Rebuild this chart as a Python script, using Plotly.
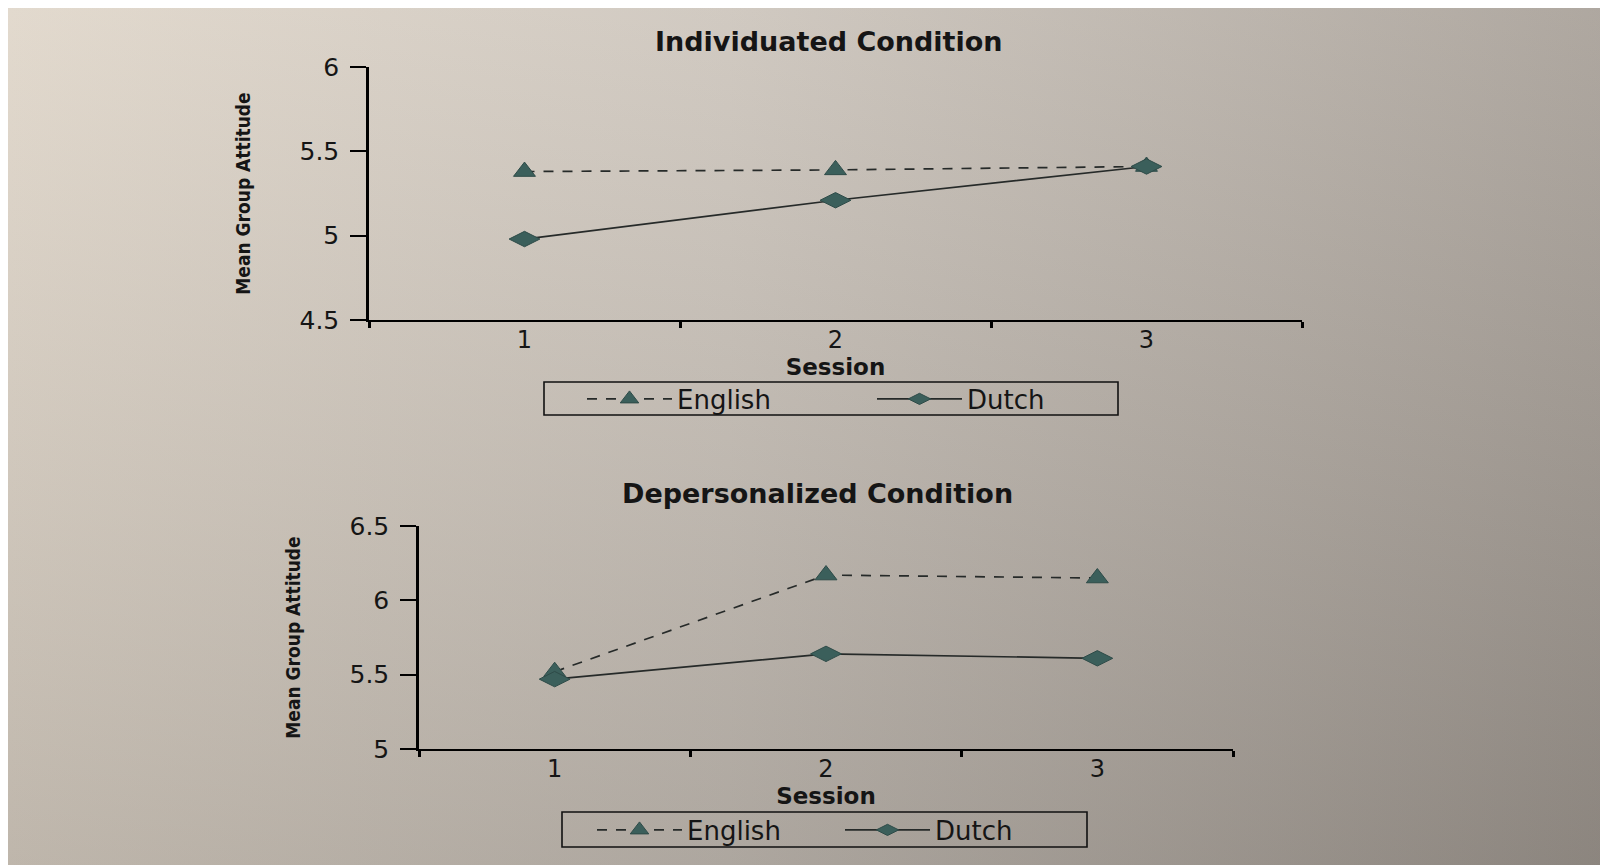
import plotly.graph_objects as go

# ---------------- data ----------------
sessions = ["1", "2", "3"]

indiv_english = [5.38, 5.39, 5.41]
indiv_dutch = [4.98, 5.21, 5.41]

depers_english = [5.52, 6.17, 6.15]
depers_dutch = [5.47, 5.64, 5.61]

indiv_yticks = [4.5, 5, 5.5, 6]
indiv_yticktext = ["4.5", "5", "5.5", "6"]
depers_yticks = [5, 5.5, 6, 6.5]
depers_yticktext = ["5", "5.5", "6", "6.5"]

series_names = ["English", "Dutch"]
titles = ["Individuated Condition", "Depersonalized Condition"]
x_title = "Session"
y_title = "Mean Group Attitude"

# ---------------- styling ----------------
W, H = 1600, 857


def px_x(p):
    return p / W


def px_y(p):
    return 1 - p / H


MARKER = "#3b5f5b"
MEDGE = "#2e4b48"
LINE = "#262a29"
TEXT = "#151515"
FONT = "DejaVu Sans, Liberation Sans, Arial, sans-serif"
NARROW = "Liberation Sans Narrow, DejaVu Sans Condensed, Arial Narrow, sans-serif"

fig = go.Figure()

# page background (photographed paper: lighter at the left, darker bottom-right)
fig.add_trace(go.Scatter(
    x=[0, W, W, 0, 0], y=[0, 0, H, H, 0],
    mode="lines", fill="toself", line=dict(width=0),
    fillgradient=dict(type="horizontal",
                      colorscale=[[0, "#ddd4c8"], [0.45, "#c8c1b9"], [1, "#9f9891"]]),
    hoverinfo="skip", showlegend=False, xaxis="x", yaxis="y"))
fig.add_trace(go.Scatter(
    x=[0, W, W, 0, 0], y=[0, 0, H, H, 0],
    mode="lines", fill="toself", line=dict(width=0),
    fillgradient=dict(type="vertical", start=0, stop=H,
                      colorscale=[[0, "rgba(255,248,238,0.16)"], [1, "rgba(50,45,40,0.18)"]]),
    hoverinfo="skip", showlegend=False, xaxis="x", yaxis="y"))


def add_panel(eng, dut, xa, ya, legend):
    fig.add_trace(go.Scatter(
        x=sessions, y=eng, name=series_names[0], mode="lines+markers",
        line=dict(color=LINE, width=1.7, dash="10px,9px"),
        marker=dict(symbol="triangle-up", size=19, color=MARKER,
                    line=dict(color=MEDGE, width=1)),
        xaxis=xa, yaxis=ya, legend=legend))
    fig.add_trace(go.Scatter(
        x=sessions, y=dut, name=series_names[1], mode="lines+markers",
        line=dict(color=LINE, width=1.7),
        marker=dict(symbol="diamond-wide", size=22, color=MARKER,
                    line=dict(color=MEDGE, width=1)),
        xaxis=xa, yaxis=ya, legend=legend))


add_panel(indiv_english, indiv_dutch, "x2", "y2", "legend")
add_panel(depers_english, depers_dutch, "x3", "y3", "legend2")

xcommon = dict(type="category", range=[-0.5, len(sessions) - 0.5],
               tickson="boundaries", ticks="outside", ticklen=6,
               tickwidth=2.5, tickcolor="black", showline=True, linecolor="black",
               linewidth=2, showgrid=False, zeroline=False, ticklabelstandoff=-3,
               tickfont=dict(family=FONT, size=24, color=TEXT),
               title=dict(text="<b>" + x_title + "</b>", standoff=0,
                          font=dict(family=FONT, size=23, color=TEXT)))
ycommon = dict(ticks="outside", ticklen=16, tickwidth=2, tickcolor="black",
               showline=True, linecolor="black", linewidth=2.5, showgrid=False,
               zeroline=False, ticklabelstandoff=6,
               tickfont=dict(family=FONT, size=25, color=TEXT),
               title=dict(text="<b>" + y_title + "</b>", standoff=44,
                          font=dict(family=NARROW, size=19, color=TEXT)))

legcommon = dict(orientation="h", xanchor="left", yanchor="middle",
                 borderwidth=0, bgcolor="rgba(0,0,0,0)",
                 font=dict(family=FONT, size=26, color=TEXT),
                 itemwidth=85, itemclick=False, itemdoubleclick=False)

box = dict(type="rect", xref="paper", yref="paper",
           line=dict(color="#111111", width=1.6), fillcolor="rgba(0,0,0,0)", layer="above")

fig.update_layout(
    width=W, height=H,
    margin=dict(l=0, r=0, t=0, b=0, autoexpand=False),
    paper_bgcolor="white",
    plot_bgcolor="rgba(0,0,0,0)",
    showlegend=True,
    xaxis=dict(domain=[0, 1], range=[0, W], visible=False, fixedrange=True),
    yaxis=dict(domain=[0, 1], range=[H, 0], visible=False, fixedrange=True),
    xaxis2=dict(domain=[px_x(361), px_x(1294)], anchor="y2", **xcommon),
    yaxis2=dict(domain=[px_y(312), px_y(59)], anchor="x2", range=[4.5, 6],
                tickvals=indiv_yticks, ticktext=indiv_yticktext, **ycommon),
    xaxis3=dict(domain=[px_x(411), px_x(1225)], anchor="y3", **xcommon),
    yaxis3=dict(domain=[px_y(741), px_y(518)], anchor="x3", range=[5, 6.5],
                tickvals=depers_yticks, ticktext=depers_yticktext, **ycommon),
    legend=dict(x=px_x(574), y=px_y(391), entrywidth=190, **legcommon),
    legend2=dict(x=px_x(584), y=px_y(822), entrywidth=148, **legcommon),
    shapes=[
        dict(x0=px_x(536), x1=px_x(1110), y0=px_y(407), y1=px_y(374), **box),
        dict(x0=px_x(554), x1=px_x(1079), y0=px_y(839), y1=px_y(804), **box),
    ],
    annotations=[
        dict(text="<b>" + titles[0] + "</b>", x=px_x(821), y=px_y(33),
             xref="paper", yref="paper", xanchor="center", yanchor="middle",
             showarrow=False, font=dict(family=FONT, size=27, color=TEXT)),
        dict(text="<b>" + titles[1] + "</b>", x=px_x(809), y=px_y(485),
             xref="paper", yref="paper", xanchor="center", yanchor="middle",
             showarrow=False, font=dict(family=FONT, size=27, color=TEXT)),
    ],
)

fig.write_html("out.html")
